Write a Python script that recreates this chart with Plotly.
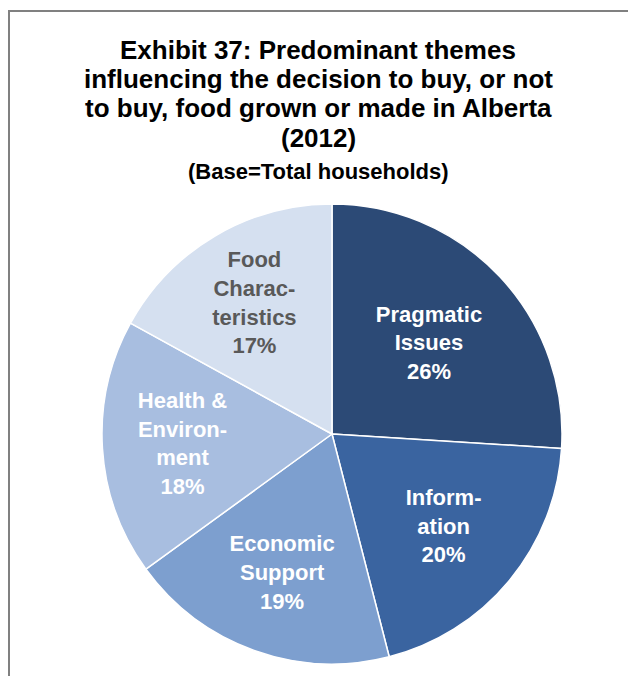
import plotly.graph_objects as go

# Survey themes and their share of total households
themes = ["Pragmatic<br>Issues", "Inform-<br>ation", "Economic<br>Support",
          "Health &<br>Environ-<br>ment", "Food<br>Charac-<br>teristics"]
shares = [26, 20, 19, 18, 17]

title_lines = ["Exhibit 37: Predominant themes",
               "influencing the decision to buy, or not",
               "to buy, food grown or made in Alberta",
               "(2012)"]
subtitle = "(Base=Total households)"

slice_colors = ["#2C4A76", "#3A64A0", "#7D9FCF", "#A8BEE0", "#D5E0F0"]
text_colors = ["white", "white", "white", "white", "#595959"]

W, H = 628, 676
FONT = "Liberation Sans, Arial, sans-serif"

fig = go.Figure(
    go.Pie(
        labels=themes,
        values=shares,
        sort=False,
        direction="clockwise",
        rotation=0,
        marker=dict(colors=slice_colors, line=dict(color="white", width=1.5)),
        texttemplate="<b>%{label}<br>%{value}%</b>",
        textposition="inside",
        insidetextorientation="horizontal",
        insidetextfont=dict(family=FONT, size=22, color=text_colors),
        hoverinfo="label+percent",
        showlegend=False,
        domain=dict(x=[(332 - 230) / W, (332 + 230) / W],
                    y=[(H - 434 - 230) / H, (H - 434 + 230) / H]),
    )
)

# Title, one annotation per line for tight line spacing
annotations = []
for i, line in enumerate(title_lines):
    annotations.append(dict(
        text=f"<b>{line}</b>", x=318 / W, y=1 - (50 + 29.2 * i) / H,
        xref="paper", yref="paper", xanchor="center", yanchor="middle",
        showarrow=False, font=dict(family=FONT, size=26, color="black")))
annotations.append(dict(
    text=f"<b>{subtitle}</b>", x=318 / W, y=1 - 172 / H,
    xref="paper", yref="paper", xanchor="center", yanchor="middle",
    showarrow=False, font=dict(family=FONT, size=22, color="black")))

fig.update_layout(
    width=W,
    height=H,
    margin=dict(l=0, r=0, t=0, b=0),
    paper_bgcolor="white",
    font=dict(family=FONT, color="black"),
    annotations=annotations,
    shapes=[
        dict(type="rect", xref="paper", yref="paper",
             x0=9 / W, x1=1.05, y0=-0.05, y1=1 - 11 / H,
             line=dict(color="#808080", width=2)),
    ],
)

fig.write_html("out.html")
